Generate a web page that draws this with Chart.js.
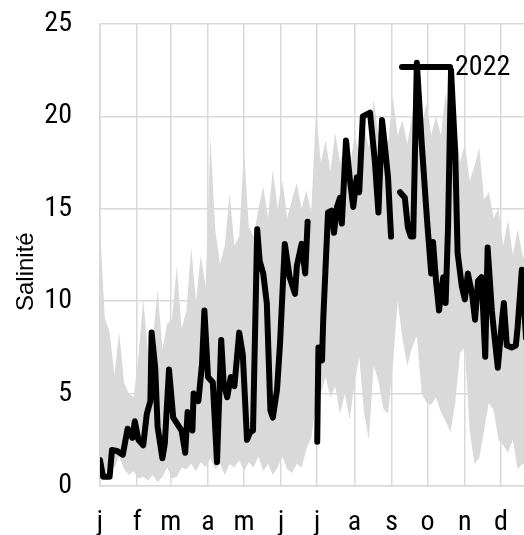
<!DOCTYPE html>
<html>
<head>
<meta charset="utf-8">
<script src="https://cdn.jsdelivr.net/npm/chart.js@4/dist/chart.umd.min.js"></script>
<style>
  body { margin: 0; background: #fff; }
</style>
</head>
<body>
<canvas id="grafico" width="524" height="535"></canvas>
<script>
// mois (initiales) et jour de début de chaque mois
const mois = ["j", "f", "m", "a", "m", "j", "j", "a", "s", "o", "n", "d"];
const debutMois = [0, 31, 59, 90, 120, 151, 181, 212, 243, 273, 304, 334];

// enveloppe min / max des années précédentes (lecture tous les 4 jours)
const joursBande = [0, 4, 8, 12, 16, 20, 24, 28, 32, 36, 40, 44, 48, 52, 56, 60, 64, 68, 72, 76,
  80, 84, 88, 92, 96, 100, 104, 108, 112, 116, 120, 124, 128, 132, 136, 140, 144, 148, 152, 156,
  160, 164, 168, 172, 176, 180, 184, 188, 192, 196, 200, 204, 208, 212, 216, 220, 224, 228, 232, 236,
  240, 244, 248, 252, 256, 260, 264, 268, 272, 276, 280, 284, 288, 292, 296, 300, 304, 308, 312, 316,
  320, 324, 328, 332, 336, 340, 344, 348, 352, 356];
const bandeMax = [14.0, 9.1, 8.3, 6.0, 8.3, 5.6, 5.0, 4.8, 7.0, 10.1, 7.2, 8.0, 10.6, 7.4, 8.8, 9.0, 11.9, 8.5, 9.5, 12.9,
  10.0, 12.5, 10.8, 18.9, 13.9, 12.0, 13.0, 15.8, 13.0, 13.5, 18.2, 14.0, 13.5, 15.0, 16.2, 14.5, 17.1, 15.0, 16.5, 14.5,
  15.5, 16.4, 15.0, 16.0, 14.8, 20.3, 17.5, 18.7, 17.0, 19.1, 17.5, 18.5, 17.0, 19.0, 18.0, 19.5, 18.3, 20.9, 19.0, 20.0,
  18.5, 21.1, 19.0, 19.8, 18.5, 20.0, 21.8, 19.5, 20.7, 19.0, 20.0, 19.0, 21.3, 19.0, 20.0, 17.5, 18.5, 16.5, 17.3, 18.3,
  15.5, 15.9, 14.5, 15.0, 13.0, 14.4, 12.5, 13.9, 12.5, 12.0];
const bandeMin = [0.8, 0.5, 1.5, 1.0, 1.6, 0.9, 0.6, 0.8, 0.4, 0.5, 0.3, 0.6, 0.2, 0.5, 1.0, 0.4, 0.5, 1.0, 0.9, 1.2,
  0.8, 1.3, 1.0, 1.5, 0.9, 1.2, 0.6, 1.2, 1.0, 1.4, 0.8, 1.3, 1.0, 1.6, 0.8, 1.2, 0.6, 1.0, 1.6, 0.9,
  0.7, 1.2, 1.0, 2.0, 2.6, 4.5, 5.0, 5.9, 4.8, 5.4, 3.9, 5.0, 3.6, 5.5, 7.0, 4.0, 2.5, 6.5, 5.7, 4.2,
  3.9, 6.5, 10.0, 8.0, 6.5, 7.5, 8.1, 5.0, 4.5, 4.4, 4.8, 4.0, 3.5, 2.9, 4.5, 7.2, 7.5, 3.0, 1.2, 1.5,
  3.0, 4.5, 4.1, 2.5, 2.2, 1.8, 2.5, 0.9, 1.2, 1.0];

// salinité 2022 (null = pas de mesure)
const jours2022 = [0, 2.5, 8, 10, 14, 19, 23, 27, 29, 32, 36, 39, 42, 43, 46, 48, 52, 54, 57.5, 61,
  65, 68, 71, 73, 77, 78, 82, 85, 87, 90, 94, 97.5, 101, 103, 106, 109, 112, 116, 119, 122.5,
  125, 127.5, 131, 133, 136, 139, 142, 144, 147.5, 150, 154, 158, 162.5, 164, 168, 171, 173,
  177,
  181, 182, 185, 186, 190, 193, 195, 197.5, 200, 201.5, 205, 208, 211, 214, 216, 219, 225, 229, 232, 235, 237.5, 240, 242.5,
  246,
  250, 254, 256.5, 259, 261, 264, 268, 272.5, 276, 277.5, 280, 282.5, 286, 288, 290, 292.5, 296, 298, 301.5, 304,
  306.5, 310, 312.5, 315, 318, 321, 323, 326.5, 329, 331.5, 335, 336.5, 339, 343, 346.5, 348, 351.5, 355];
const sal2022 = [1.4, 0.5, 0.5, 1.95, 1.9, 1.7, 3.1, 2.6, 3.5, 2.5, 2.2, 3.9, 4.6, 8.3, 6.4, 3.2, 1.5, 2.3, 6.3, 3.7,
  3.3, 3.0, 1.8, 4.0, 3.0, 5.0, 4.6, 6.6, 9.5, 5.9, 5.6, 1.3, 7.9, 5.6, 4.8, 5.9, 5.4, 8.3, 7.1, 2.5,
  2.9, 3.0, 13.9, 12.2, 11.5, 9.9, 4.1, 3.7, 5.2, 7.7, 13.1, 11.3, 10.4, 11.9, 13.1, 11.5, 14.3,
  null,
  2.4, 7.5, 6.8, 9.0, 14.8, 14.9, 13.7, 15.1, 15.6, 14.2, 18.7, 16.7, 15.1, 16.7, 15.9, 20.0, 20.2, 17.6, 14.8, 19.8, 18.3, 16.7, 13.5,
  null,
  15.9, 15.6, 14.0, 13.5, 13.5, 22.9, 18.6, 14.4, 11.5, 13.2, 11.1, 9.5, 11.3, 9.9, 14.0, 22.5, 18.0, 12.6, 10.8, 10.1,
  11.5, 10.4, 9.0, 11.1, 11.3, 7.0, 12.9, 9.5, 7.9, 6.4, 9.0, 9.9, 7.6, 7.5, 7.6, 8.6, 11.7, 8.0];

const police = "'Roboto Condensed', 'Liberation Sans', Arial, sans-serif";
const grisGrille = "#d9d9d9";

// clé "2022" dans le coin haut droit du graphique
const legende2022 = {
  id: "legende2022",
  afterDatasetsDraw(chart) {
    const ds = chart.data.datasets[0];
    const { ctx, chartArea } = chart;
    const x = chartArea.right - 122;
    const y = chartArea.top + 43;
    ctx.save();
    ctx.strokeStyle = ds.borderColor;
    ctx.lineWidth = ds.borderWidth;
    ctx.lineCap = "round";
    ctx.beginPath();
    ctx.moveTo(x, y);
    ctx.lineTo(x + 48, y);
    ctx.stroke();
    ctx.fillStyle = "#000";
    ctx.font = "28px " + police;
    ctx.textBaseline = "middle";
    ctx.fillText(ds.label, x + 53, y + 1);
    ctx.restore();
  }
};

new Chart(document.getElementById("grafico"), {
  type: "line",
  data: {
    datasets: [
      {
        label: "2022",
        data: jours2022.map((j, i) => ({ x: j, y: sal2022[i] })),
        borderColor: "#000",
        borderWidth: 6,
        borderJoinStyle: "round",
        borderCapStyle: "round",
        pointRadius: 0,
        spanGaps: false,
        tension: 0
      },
      {
        label: "max",
        data: joursBande.map((j, i) => ({ x: j, y: bandeMax[i] })),
        borderWidth: 0,
        pointRadius: 0,
        backgroundColor: grisGrille,
        fill: "+1"
      },
      {
        label: "min",
        data: joursBande.map((j, i) => ({ x: j, y: bandeMin[i] })),
        borderWidth: 0,
        pointRadius: 0,
        fill: false
      }
    ]
  },
  options: {
    responsive: false,
    animation: false,
    layout: { autoPadding: false, padding: { top: 24, right: 0, left: 0, bottom: 0 } },
    plugins: {
      legend: { display: false },
      tooltip: { enabled: false }
    },
    scales: {
      x: {
        type: "linear",
        min: 0,
        max: 353.3,
        afterBuildTicks: s => { s.ticks = debutMois.map(v => ({ value: v })); },
        afterFit: s => { s.height = 49; },
        grid: { color: grisGrille, lineWidth: 1.5, drawTicks: true, tickLength: 20, tickColor: "rgba(0,0,0,0)" },
        border: { color: grisGrille, width: 1.5 },
        ticks: {
          autoSkip: false,
          maxRotation: 0,
          padding: 0,
          color: "#000",
          font: { family: police, size: 28 },
          callback: (v, i) => mois[i]
        }
      },
      y: {
        min: 0,
        max: 25,
        afterFit: s => { s.width = 100; },
        grid: { color: grisGrille, lineWidth: 1.5, drawTicks: true, tickLength: 28, tickColor: "rgba(0,0,0,0)" },
        border: { color: grisGrille, width: 1.5 },
        ticks: {
          stepSize: 5,
          padding: 0,
          color: "#000",
          font: { family: police, size: 28 }
        },
        title: {
          display: true,
          text: "Salinité\u00a0\u00a0\u00a0\u00a0\u00a0",
          color: "#000",
          padding: { top: 12, bottom: 0 },
          font: { family: "'Liberation Sans', Arial, sans-serif", size: 24 }
        }
      }
    }
  },
  plugins: [legende2022]
});
</script>
</body>
</html>
